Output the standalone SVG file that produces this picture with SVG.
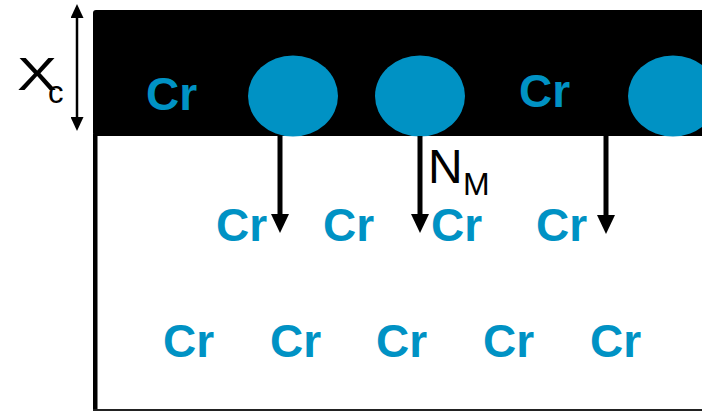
<svg xmlns="http://www.w3.org/2000/svg" width="702" height="412" viewBox="0 0 702 412">
<style>
.cr{font-family:"Liberation Sans",Arial,sans-serif;font-weight:bold;font-size:46px;fill:#0092C4}
.lbl{font-family:"Liberation Sans",Arial,sans-serif;fill:#000}
.atom{fill:#0092C4}
.flow{stroke:#000;stroke-width:5;fill:none}
.dim{stroke:#000;stroke-width:2.5;fill:none}
</style>
<defs>
<marker id="head" markerUnits="userSpaceOnUse" markerWidth="19" markerHeight="18" refX="0" refY="9" orient="auto">
<path d="M0,0 L19,9 L0,18 z" fill="#000"/>
</marker>
<marker id="dimhead" markerUnits="userSpaceOnUse" markerWidth="14" markerHeight="13" refX="0" refY="6.5" orient="auto-start-reverse">
<path d="M0,0 L14,6.5 L0,13 z" fill="#000"/>
</marker>
</defs>
<g id="substrate">
<rect x="93" y="10" width="612" height="126" rx="3" fill="#000"/>
<rect x="93" y="134" width="4.5" height="277" fill="#000"/>
<rect x="93" y="409" width="612" height="2" fill="#222"/>
</g>
<g id="atoms">
<ellipse class="atom" cx="293" cy="96" rx="45" ry="40.5"/>
<ellipse class="atom" cx="420" cy="96" rx="45" ry="40.5"/>
<ellipse class="atom" cx="673" cy="96" rx="45" ry="40.5"/>
</g>
<g id="cr-top">
<text class="cr" x="146" y="110">Cr</text>
<text class="cr" x="519" y="107">Cr</text>
</g>
<g id="cr-middle">
<text class="cr" x="216" y="241">Cr</text>
<text class="cr" x="323" y="241">Cr</text>
<text class="cr" x="431" y="241">Cr</text>
<text class="cr" x="536" y="241">Cr</text>
</g>
<g id="cr-bottom">
<text class="cr" x="163" y="357">Cr</text>
<text class="cr" x="270" y="357">Cr</text>
<text class="cr" x="376" y="357">Cr</text>
<text class="cr" x="483" y="357">Cr</text>
<text class="cr" x="590" y="357">Cr</text>
</g>
<g id="connectors">
<line class="flow" x1="280" y1="136" x2="280" y2="214" marker-end="url(#head)"/>
<line class="flow" x1="420" y1="136" x2="420" y2="214" marker-end="url(#head)"/>
<line class="flow" x1="606" y1="136" x2="606" y2="215" marker-end="url(#head)"/>
<line class="dim" x1="77" y1="18" x2="77" y2="117" marker-start="url(#dimhead)" marker-end="url(#dimhead)"/>
</g>
<g id="label-xc">
<text class="lbl" x="17" y="90" font-size="47" textLength="40" lengthAdjust="spacingAndGlyphs">X</text>
<text class="lbl" x="48" y="103" font-size="31">c</text>
</g>
<g id="label-nm">
<text class="lbl" x="428" y="183" font-size="48">N</text>
<text class="lbl" x="463" y="195" font-size="32">M</text>
</g>
</svg>
